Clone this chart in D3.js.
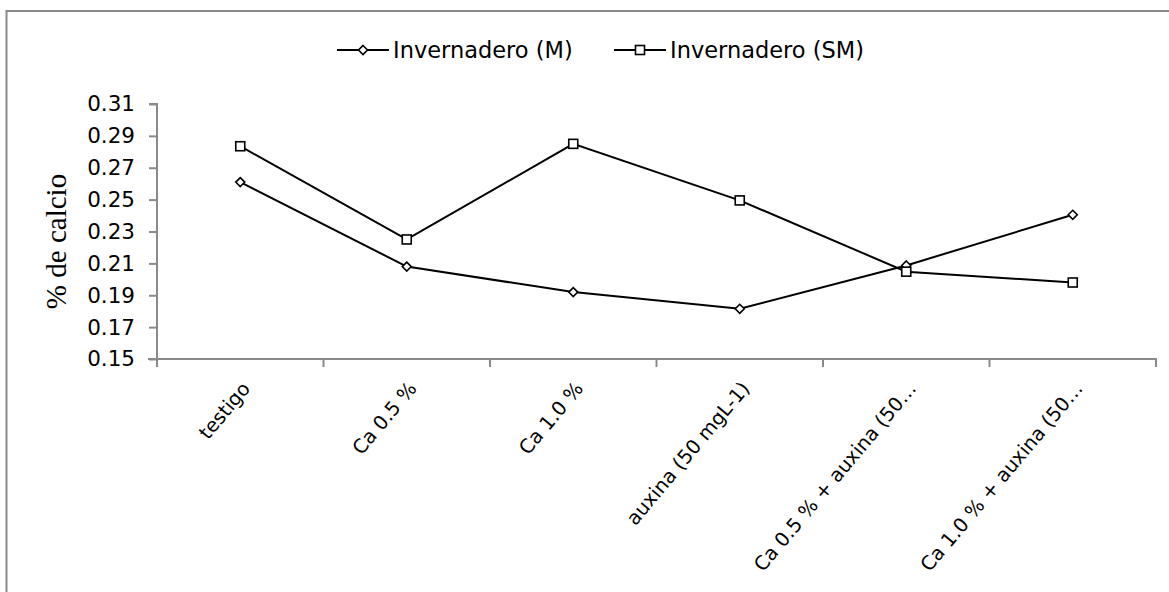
<!DOCTYPE html>
<html>
<head>
<meta charset="utf-8">
<script src="https://cdn.jsdelivr.net/npm/d3@7"></script>
<style>
  html, body { margin: 0; padding: 0; background: #fff; }
  svg { display: block; }
</style>
</head>
<body>
<div id="chart"></div>
<script>
// Calcium content (%) per treatment, two greenhouse series
const categories = ["testigo", "Ca 0.5 %", "Ca 1.0 %", "auxina (50 mgL-1)", "Ca 0.5 % + auxina (50…", "Ca 1.0 % + auxina (50…"];
const seriesNames = ["Invernadero (M)", "Invernadero (SM)"];
const valuesM  = [0.261, 0.208, 0.192, 0.1815, 0.2087, 0.2405];
const valuesSM = [0.2835, 0.225, 0.285, 0.2495, 0.2048, 0.198];
const yTicks = [0.15, 0.17, 0.19, 0.21, 0.23, 0.25, 0.27, 0.29, 0.31];
const yTitle = "% de calcio";

const W = 1169, H = 592;
const plot = { left: 157, right: 1156, top: 104, bottom: 359 };
const axisColor = "#8a8a8a";
const font = "'DejaVu Sans', sans-serif";

const svg = d3.select("#chart").append("svg").attr("width", W).attr("height", H);

// chart area frame (top and left edges)
svg.append("path")
  .attr("d", `M6.5,${H} V11 H${W}`)
  .attr("fill", "none").attr("stroke", axisColor).attr("stroke-width", 2);

const x = d3.scaleBand().domain(categories).range([plot.left, plot.right]).padding(0);
const y = d3.scaleLinear().domain([0.15, 0.31]).range([plot.bottom, plot.top]);

// y axis
const yAxis = d3.axisLeft(y).tickValues(yTicks).tickFormat(d3.format(".2f")).tickSize(8).tickPadding(14);
const gy = svg.append("g").attr("transform", `translate(${plot.left},0)`).call(yAxis);
gy.select(".domain").attr("stroke", axisColor).attr("stroke-width", 2).attr("d", `M-8,${plot.top}H0V${plot.bottom}`);
gy.selectAll(".tick line").attr("stroke", axisColor).attr("stroke-width", 2);
gy.selectAll(".tick text").attr("fill", "#000").style("font-family", font).style("font-size", "21.5px");

// x axis line and boundary ticks
const bounds = categories.map(c => x(c)).concat([plot.right]);
const gx = svg.append("g");
gx.append("line")
  .attr("x1", plot.left - 9).attr("x2", plot.right + 1)
  .attr("y1", plot.bottom).attr("y2", plot.bottom)
  .attr("stroke", axisColor).attr("stroke-width", 2);
gx.selectAll("line.tk").data(bounds).join("line").attr("class", "tk")
  .attr("x1", d => d).attr("x2", d => d)
  .attr("y1", plot.bottom).attr("y2", plot.bottom + 8)
  .attr("stroke", axisColor).attr("stroke-width", 2);

// rotated category labels
gx.selectAll("text").data(categories).join("text")
  .attr("transform", d => `translate(${x(d) + x.bandwidth() / 2 + 11},${plot.bottom + 30}) rotate(-50)`)
  .attr("text-anchor", "end")
  .style("font-family", font).style("font-size", "19.5px")
  .attr("fill", "#000")
  .text(d => d);

// y title
svg.append("text")
  .attr("transform", `translate(66,${(plot.top + plot.bottom) / 2 + 10}) rotate(-90)`)
  .attr("text-anchor", "middle")
  .style("font-family", "'Liberation Serif', 'Times New Roman', serif")
  .style("font-size", "29px")
  .attr("fill", "#000")
  .text(yTitle);

// series lines and markers
const line = d3.line().x((d, i) => x(categories[i]) + x.bandwidth() / 2).y(d => y(d));
const series = [
  { name: seriesNames[0], values: valuesM, marker: "diamond" },
  { name: seriesNames[1], values: valuesSM, marker: "square" }
];

function drawMarker(g, type, cx, cy) {
  if (type === "diamond") {
    g.append("path")
      .attr("d", `M${cx},${cy - 4.5}L${cx + 4.5},${cy}L${cx},${cy + 4.5}L${cx - 4.5},${cy}Z`)
      .attr("fill", "#fff").attr("stroke", "#000").attr("stroke-width", 1.6);
  } else {
    g.append("rect")
      .attr("x", cx - 4.5).attr("y", cy - 4.5).attr("width", 9).attr("height", 9)
      .attr("fill", "#fff").attr("stroke", "#000").attr("stroke-width", 1.6);
  }
}

series.forEach(s => {
  const g = svg.append("g");
  g.append("path").datum(s.values)
    .attr("d", line).attr("fill", "none").attr("stroke", "#000").attr("stroke-width", 2);
  s.values.forEach((v, i) => drawMarker(g, s.marker, x(categories[i]) + x.bandwidth() / 2, y(v)));
});

// legend
const legendItems = [{ x: 337 }, { x: 614 }];
series.forEach((s, i) => {
  const lx = legendItems[i].x, ly = 50;
  const g = svg.append("g");
  g.append("line").attr("x1", lx).attr("x2", lx + 52).attr("y1", ly).attr("y2", ly)
    .attr("stroke", "#000").attr("stroke-width", 2);
  drawMarker(g, s.marker, lx + 26, ly);
  g.append("text").attr("x", lx + 56).attr("y", ly + 8)
    .style("font-family", font).style("font-size", "22.5px").attr("fill", "#000")
    .text(s.name);
});
</script>
</body>
</html>
